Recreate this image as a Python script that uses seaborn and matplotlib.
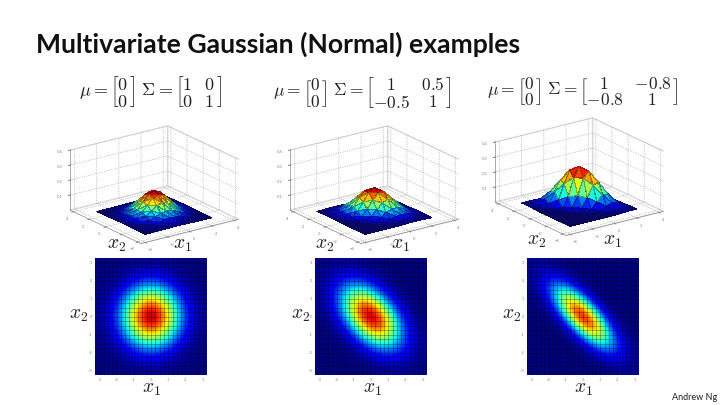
import numpy as np
import matplotlib
matplotlib.use('Agg')
import matplotlib.pyplot as plt
import matplotlib.tri as mtri
import seaborn as sns

# grid positions and densities (x 1000), first row is x2 = +3
grid_vals = [-3, -2.5, -2, -1.5, -1, -0.5, 0, 0.5, 1, 1.5, 2, 2.5, 3]
tick_vals = [-3, -2, -1, 0, 1, 2, 3]
surf_ticks = [-4, -2, 0, 2, 4]
z_ticks = [0.1, 0.2, 0.3, 0.4]

density_a = [
    [0, 1, 1, 1, 2, 3, 4, 3, 2, 1, 1, 1, 0],
    [1, 1, 2, 5, 8, 11, 11, 11, 8, 5, 2, 1, 1],
    [1, 2, 5, 11, 19, 27, 30, 27, 19, 11, 5, 2, 1],
    [1, 5, 11, 24, 42, 56, 62, 56, 42, 24, 11, 5, 1],
    [2, 8, 19, 42, 69, 94, 106, 94, 69, 42, 19, 8, 2],
    [3, 11, 27, 56, 94, 130, 144, 130, 94, 56, 27, 11, 3],
    [4, 11, 30, 62, 106, 144, 160, 144, 106, 62, 30, 11, 4],
    [3, 11, 27, 56, 94, 130, 144, 130, 94, 56, 27, 11, 3],
    [2, 8, 19, 42, 69, 94, 106, 94, 69, 42, 19, 8, 2],
    [1, 5, 11, 24, 42, 56, 62, 56, 42, 24, 11, 5, 1],
    [1, 2, 5, 11, 19, 27, 30, 27, 19, 11, 5, 2, 1],
    [1, 1, 2, 5, 8, 11, 11, 11, 8, 5, 2, 1, 1],
    [0, 1, 1, 1, 2, 3, 4, 3, 2, 1, 1, 1, 0],
]
density_b = [
    [1, 2, 4, 4, 4, 2, 1, 0, 0, 0, 0, 0, 0],
    [2, 6, 10, 13, 13, 10, 6, 2, 1, 0, 0, 0, 0],
    [4, 10, 20, 30, 34, 30, 20, 10, 4, 1, 0, 0, 0],
    [4, 13, 30, 52, 68, 68, 52, 30, 13, 4, 1, 0, 0],
    [4, 13, 34, 68, 103, 119, 103, 68, 34, 13, 4, 1, 0],
    [2, 10, 30, 68, 119, 157, 157, 119, 68, 30, 10, 2, 0],
    [1, 6, 20, 52, 103, 157, 180, 157, 103, 52, 20, 6, 1],
    [0, 2, 10, 30, 68, 119, 157, 157, 119, 68, 30, 10, 2],
    [0, 1, 4, 13, 34, 68, 103, 119, 103, 68, 34, 13, 4],
    [0, 0, 1, 4, 13, 30, 52, 68, 68, 52, 30, 13, 4],
    [0, 0, 0, 1, 4, 10, 20, 30, 34, 30, 20, 10, 4],
    [0, 0, 0, 0, 1, 2, 6, 10, 13, 13, 10, 6, 2],
    [0, 0, 0, 0, 0, 0, 1, 2, 4, 4, 4, 2, 1],
]
density_c = [
    [4, 6, 5, 2, 1, 0, 0, 0, 0, 0, 0, 0, 0],
    [6, 15, 20, 15, 6, 1, 0, 0, 0, 0, 0, 0, 0],
    [5, 20, 42, 50, 34, 13, 3, 0, 0, 0, 0, 0, 0],
    [2, 20, 51, 95, 101, 60, 20, 4, 0, 0, 0, 0, 0],
    [1, 6, 34, 101, 170, 160, 85, 25, 4, 0, 0, 0, 0],
    [0, 1, 13, 60, 160, 241, 203, 95, 25, 4, 0, 0, 0],
    [0, 0, 3, 20, 85, 203, 270, 203, 85, 20, 3, 0, 0],
    [0, 0, 0, 4, 25, 95, 203, 241, 160, 60, 13, 1, 0],
    [0, 0, 0, 0, 4, 25, 85, 160, 170, 101, 34, 6, 1],
    [0, 0, 0, 0, 0, 4, 20, 60, 101, 95, 51, 20, 2],
    [0, 0, 0, 0, 0, 0, 3, 13, 34, 50, 42, 20, 5],
    [0, 0, 0, 0, 0, 0, 0, 1, 6, 15, 20, 15, 6],
    [0, 0, 0, 0, 0, 0, 0, 0, 1, 2, 5, 6, 4],
]

title = 'Multivariate Gaussian (Normal) examples'
credit = 'Andrew Ng'
mu = r'\mu='
mu_vec = r'\left[\genfrac{}{}{0}{0}{0}{0}\right]'
formulas = [
    r'$' + mu + mu_vec + r'\ \Sigma=\left[\genfrac{}{}{0}{0}{1}{0}\ \ \genfrac{}{}{0}{0}{0}{1}\right]$',
    r'$' + mu + mu_vec + r'\ \Sigma=\left[\genfrac{}{}{0}{0}{1}{-0.5}\ \ \genfrac{}{}{0}{0}{0.5}{1}\right]$',
    r'$' + mu + mu_vec + r'\ \Sigma=\left[\genfrac{}{}{0}{0}{1}{-0.8}\ \ \genfrac{}{}{0}{0}{-0.8}{1}\right]$',
]
densities = [density_a, density_b, density_c]

sns.set_style('white')
plt.rcParams['font.family'] = ['Lato', 'DejaVu Sans']
plt.rcParams['mathtext.fontset'] = 'cm'
plt.rcParams['grid.linestyle'] = ':'
plt.rcParams['grid.color'] = '#999999'
plt.rcParams['grid.linewidth'] = 0.5

W, H = 720, 405
fig = plt.figure(figsize=(W / 100, H / 100), dpi=100, facecolor='white')


def rect(x0, y0, x1, y1):
    return [x0 / W, 1 - y1 / H, (x1 - x0) / W, (y1 - y0) / H]


def label(x, y, s, **kw):
    fig.text(x / W, 1 - y / H, s, ha='center', va='center', **kw)


label(278, 44, title, fontsize=19.1, fontweight='bold', color='#111111')
label(695, 397, credit, fontsize=6.5, color='#222222')

formula_x = [150, 362, 583]
formula_size = [13, 12.5, 12.5]
surf_centers = [(152, 187), (372, 187), (577, 179)]
heat_x = [95, 315, 527]
x2_top = [(117, 246), (325, 246), (537, 242)]
x1_top = [(182, 246), (400, 246), (612, 242)]
x2_side = [79, 301, 512]
x1_below = [151, 372, 583]

# split each grid cell along the x1 = -x2 direction so the ridge stays unbroken
n = len(grid_vals)
xx, yy = np.meshgrid(grid_vals, grid_vals[::-1])
triangles = []
for r in range(n - 1):
    for c in range(n - 1):
        a, b, d, e = r * n + c, r * n + c + 1, (r + 1) * n + c, (r + 1) * n + c + 1
        triangles += [[a, d, e], [a, e, b]]
tri = mtri.Triangulation(xx.ravel(), yy.ravel(), triangles)

for i, dens in enumerate(densities):
    z = np.array(dens) / 1000
    label(formula_x[i], 92, formulas[i], fontsize=formula_size[i], color='#222222')

    # surface
    cx, cy = surf_centers[i]
    ax3 = fig.add_axes(rect(cx - 110, cy - 85, cx + 110, cy + 85), projection='3d',
                       proj_type='ortho', facecolor='none')
    ax3.plot_trisurf(tri, z.ravel(), cmap='jet', vmin=0, vmax=z.max(),
                     linewidth=0.06, edgecolor='#10102060', antialiased=False)
    ax3.view_init(elev=20, azim=-126)
    ax3.set_box_aspect((1, 1, 0.53), zoom=1.04)
    ax3.set_xlim(-4.4, 4.4)
    ax3.set_ylim(-4.4, 4.4)
    ax3.set_zlim(0, 0.4)
    ax3.set_xticks(surf_ticks)
    ax3.set_yticks(surf_ticks)
    ax3.set_zticks(z_ticks)
    ax3.tick_params(labelsize=3, colors='#888888', pad=-4, length=0)
    for axis in (ax3.xaxis, ax3.yaxis, ax3.zaxis):
        axis.pane.fill = False
        axis.pane.set_edgecolor('#cccccc')
        axis.line.set_color('#888888')
        axis.line.set_linewidth(0.5)
    label(*x2_top[i], r'$x_2$', fontsize=14, color='#222222')
    label(*x1_top[i], r'$x_1$', fontsize=14, color='#222222')

    # flat view
    ax = fig.add_axes(rect(heat_x[i], 258, heat_x[i] + 112, 375))
    sns.heatmap(z, ax=ax, cmap='jet', vmin=0, vmax=z.max(), cbar=False, square=False,
                xticklabels=False, yticklabels=False)
    ax.imshow(z, cmap='jet', vmin=0, vmax=z.max(), extent=(0, n, n, 0),
              interpolation='bicubic', aspect='auto', zorder=2)
    ax.set_xticks([grid_vals.index(t) + 0.5 for t in tick_vals], labels=tick_vals)
    ax.set_yticks([grid_vals[::-1].index(t) + 0.5 for t in tick_vals], labels=tick_vals)
    ax.tick_params(labelsize=3, colors='#888888', length=1, width=0.4, pad=1)
    for pos in np.arange(0.5, n, 0.5):
        ax.axvline(pos, color='black', lw=0.5, alpha=0.4, zorder=3)
        ax.axhline(pos, color='black', lw=0.5, alpha=0.4, zorder=3)
    label(x2_side[i], 316, r'$x_2$', fontsize=14, color='#222222')
    label(x1_below[i], 390, r'$x_1$', fontsize=14, color='#222222')

fig.savefig('out.png', dpi=100)
